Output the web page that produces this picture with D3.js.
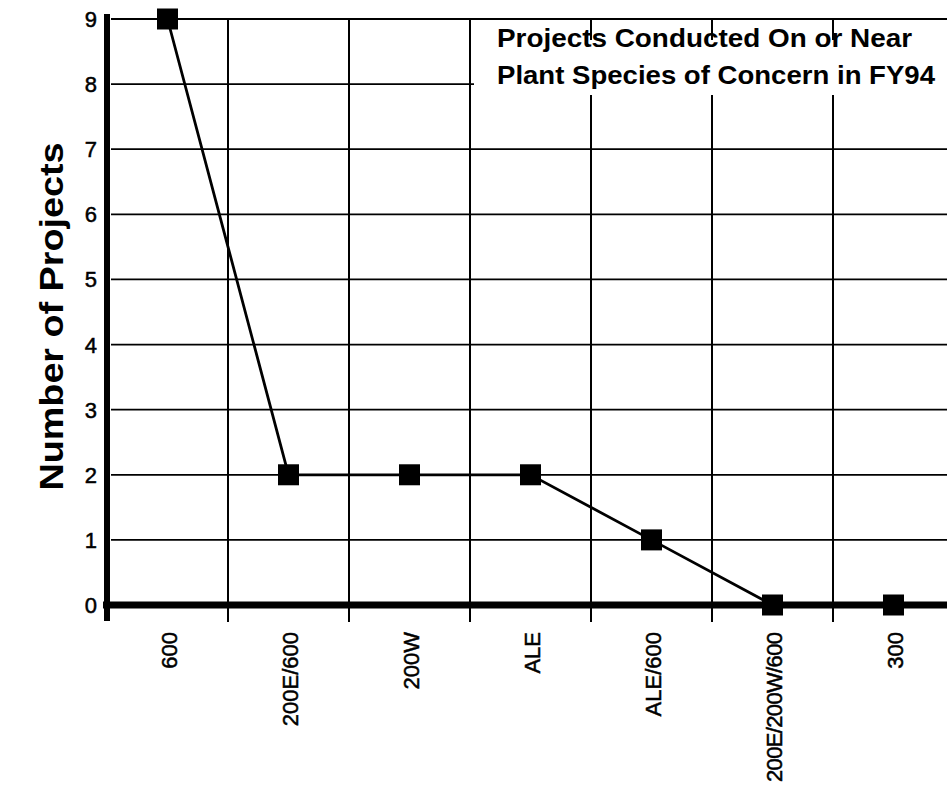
<!DOCTYPE html>
<html>
<head>
<meta charset="utf-8">
<script src="https://cdn.jsdelivr.net/npm/d3@7"></script>
<style>
  html, body { margin: 0; padding: 0; background: #fff; overflow: hidden; }
  svg { display: block; }
  text { font-family: "Liberation Sans Narrow", "Arial Narrow", "Liberation Sans", Arial, sans-serif; fill: #000; }
  .tick-label { stroke: #000; stroke-width: 0.5px; }
</style>
</head>
<body>
<div id="chart-area"></div>
<script>
const categories = ["600", "200E/600", "200W", "ALE", "ALE/600", "200E/200W/600", "300"];
const projects = [9, 2, 2, 2, 1, 0, 0];
const yTicks = [0, 1, 2, 3, 4, 5, 6, 7, 8, 9];
const titleLines = ["Projects Conducted On or Near", "Plant Species of Concern  in FY94"];
const yTitle = "Number of Projects";

const config = {
    width: 947,
    height: 792,
    left: 107,
    top: 19,
    bottom: 605,
    bandWidth: 121
};

const svg = d3.select('#chart-area')
    .append('svg')
    .attr("width", config.width)
    .attr("height", config.height);

const xScale = d3.scaleBand()
    .domain(categories)
    .range([config.left, config.left + config.bandWidth * categories.length])
    .padding(0);

const yScale = d3.scaleLinear()
    .domain([0, 9])
    .range([config.bottom, config.top]);

// horizontal grid
svg.append('g')
    .selectAll('line')
    .data(yTicks.filter(d => d > 0))
    .join('line')
    .attr('x1', config.left + 4)
    .attr('x2', config.width)
    .attr('y1', d => yScale(d))
    .attr('y2', d => yScale(d))
    .attr('stroke', '#000')
    .attr('stroke-width', 1.8);

// vertical grid + ticks below the axis
const bounds = categories.slice(1).map(c => xScale(c));
svg.append('g')
    .selectAll('line')
    .data(bounds)
    .join('line')
    .attr('x1', d => d)
    .attr('x2', d => d)
    .attr('y1', yScale(9))
    .attr('y2', config.bottom + 17)
    .attr('stroke', '#000')
    .attr('stroke-width', 2);

// white box behind the title
svg.append('rect')
    .attr('x', xScale("ALE") + 4)
    .attr('y', 40)
    .attr('width', config.width - xScale("ALE"))
    .attr('height', 55)
    .attr('fill', '#fff');

svg.append('g')
    .selectAll('text')
    .data(titleLines)
    .join('text')
    .attr('x', 497)
    .attr('y', (d, i) => 47 + i * 37)
    .attr('font-size', '26px')
    .attr('font-weight', 'bold')
    .attr('textLength', (d, i) => i === 0 ? 415 : 438)
    .attr('lengthAdjust', 'spacingAndGlyphs')
    .text(d => d);

// axes
svg.append('line')
    .attr('x1', config.left)
    .attr('x2', config.left)
    .attr('y1', config.top - 5)
    .attr('y2', config.bottom + 16)
    .attr('stroke', '#000')
    .attr('stroke-width', 6);

svg.append('line')
    .attr('x1', config.left - 4)
    .attr('x2', config.width)
    .attr('y1', config.bottom)
    .attr('y2', config.bottom)
    .attr('stroke', '#000')
    .attr('stroke-width', 7);

// y tick labels
svg.append('g')
    .selectAll('text')
    .data(yTicks)
    .join('text')
    .attr('class', 'tick-label')
    .attr('x', 97)
    .attr('y', d => yScale(d) + 8)
    .attr('text-anchor', 'end')
    .attr('font-size', '22px')
    .text(d => d);

// x tick labels
svg.append('g')
    .selectAll('text')
    .data(categories)
    .join('text')
    .attr('class', 'tick-label')
    .attr('transform', d => `translate(${xScale(d) + xScale.bandwidth() / 2 + 9}, 632) rotate(-90)`)
    .attr('text-anchor', 'end')
    .attr('font-size', '22px')
    .attr('textLength', d => d.length > 10 ? 150 : null)
    .text(d => d);

// y title
svg.append('text')
    .attr('transform', `translate(63, ${(143 + 490) / 2}) rotate(-90)`)
    .attr('text-anchor', 'middle')
    .attr('font-size', '33px')
    .attr('font-weight', 'bold')
    .attr('textLength', 348)
    .attr('lengthAdjust', 'spacingAndGlyphs')
    .text(yTitle);

// data line
const line = d3.line()
    .x((d, i) => xScale(categories[i]) + xScale.bandwidth() / 2)
    .y(d => yScale(d));

svg.append('path')
    .datum(projects)
    .attr('d', line)
    .attr('fill', 'none')
    .attr('stroke', '#000')
    .attr('stroke-width', 2.8);

const size = 21;
svg.append('g')
    .selectAll('rect')
    .data(projects)
    .join('rect')
    .attr('x', (d, i) => xScale(categories[i]) + xScale.bandwidth() / 2 - size / 2)
    .attr('y', d => yScale(d) - size / 2)
    .attr('width', size)
    .attr('height', size)
    .attr('fill', '#000');
</script>
</body>
</html>
